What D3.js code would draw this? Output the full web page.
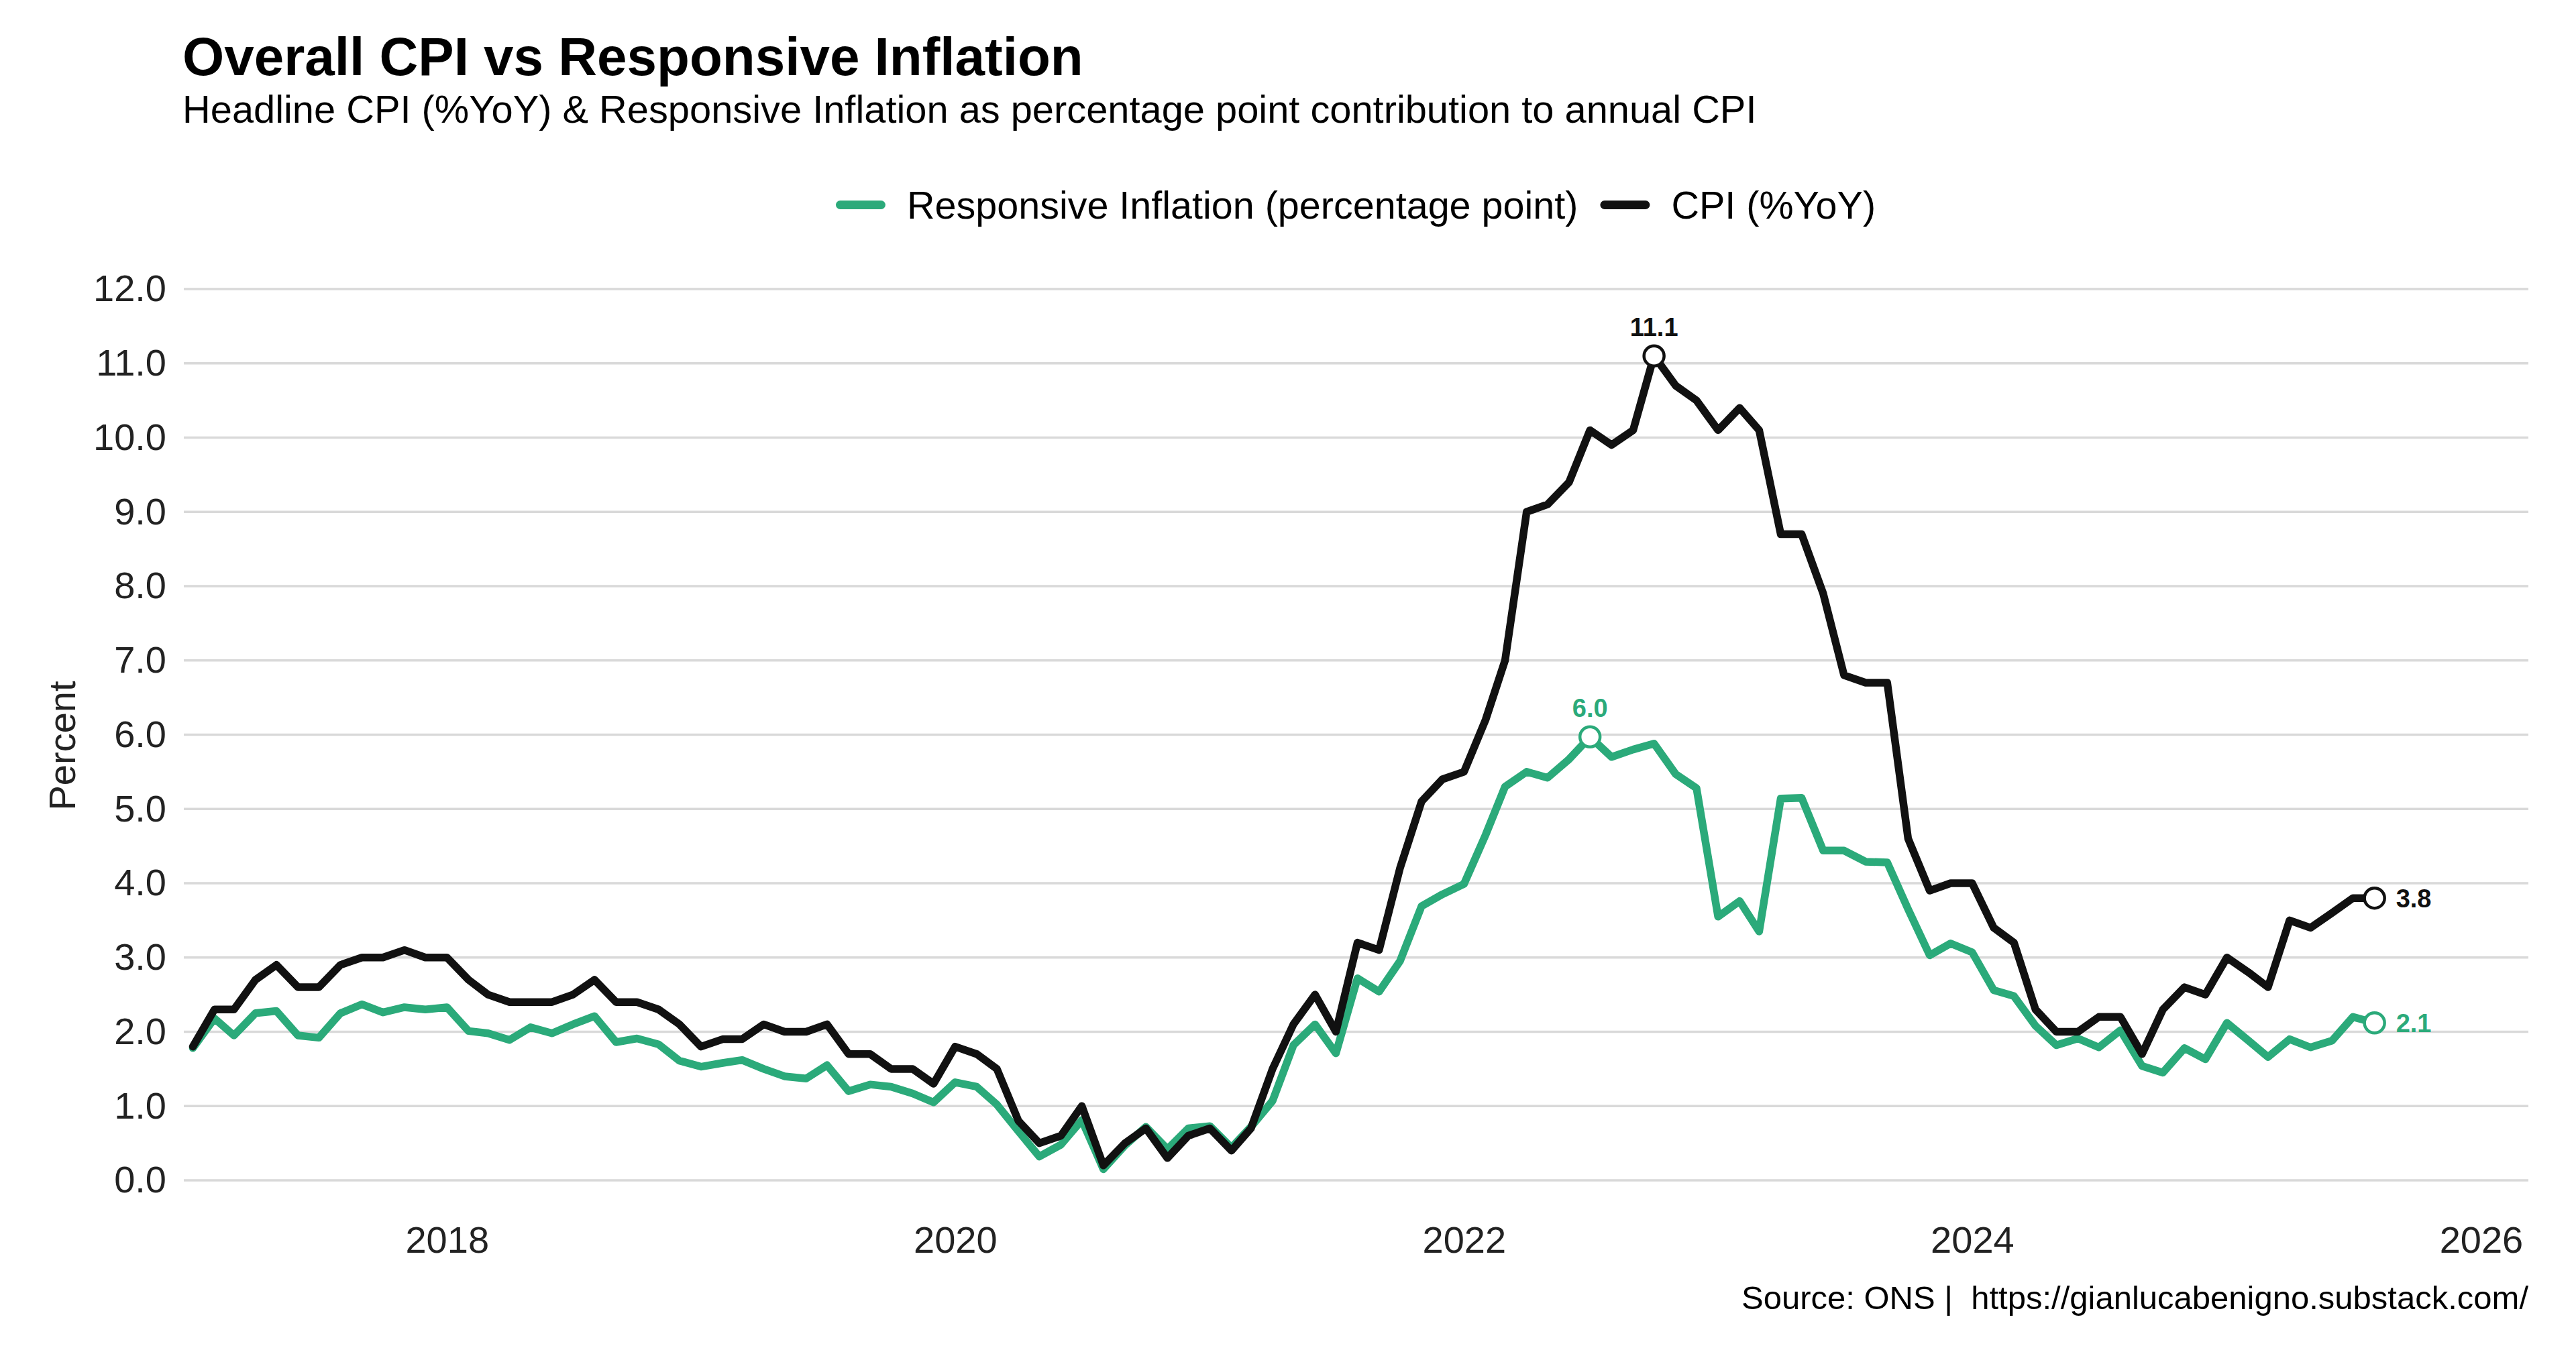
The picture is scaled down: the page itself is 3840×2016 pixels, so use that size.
<!DOCTYPE html>
<html>
<head>
<meta charset="utf-8">
<script src="https://cdn.jsdelivr.net/npm/d3@7"></script>
<style>
	body { margin: 0; background: #fff; }
	svg { display: block; font-family: "Liberation Sans", Arial, Helvetica, sans-serif; }
</style>
</head>
<body>
<svg id="chart" width="3840" height="2016"></svg>
<script>
"use strict";

// monthly observations, Jan 2017 .. Aug 2025
var firstMonth = "2017-01",
	lastMonth = "2025-08";

// headline CPI, % year on year
var cpi = [
	1.8, 2.3, 2.3, 2.7, 2.9, 2.6, 2.6, 2.9, 3.0, 3.0, 3.1, 3.0,
	3.0, 2.7, 2.5, 2.4, 2.4, 2.4, 2.5, 2.7, 2.4, 2.4, 2.3, 2.1,
	1.8, 1.9, 1.9, 2.1, 2.0, 2.0, 2.1, 1.7, 1.7, 1.5, 1.5, 1.3,
	1.8, 1.7, 1.5, 0.8, 0.5, 0.6, 1.0, 0.2, 0.5, 0.7, 0.3, 0.6,
	0.7, 0.4, 0.7, 1.5, 2.1, 2.5, 2.0, 3.2, 3.1, 4.2, 5.1, 5.4,
	5.5, 6.2, 7.0, 9.0, 9.1, 9.4, 10.1, 9.9, 10.1, 11.1, 10.7, 10.5,
	10.1, 10.4, 10.1, 8.7, 8.7, 7.9, 6.8, 6.7, 6.7, 4.6, 3.9, 4.0,
	4.0, 3.4, 3.2, 2.3, 2.0, 2.0, 2.2, 2.2, 1.7, 2.3, 2.6, 2.5,
	3.0, 2.8, 2.6, 3.5, 3.4, 3.6, 3.8, 3.8
];

// responsive inflation, pp contribution to annual CPI
var responsive = [
	1.78, 2.18, 1.95, 2.25, 2.28, 1.95, 1.92, 2.25, 2.37, 2.26, 2.33, 2.30,
	2.33, 2.01, 1.98, 1.89, 2.06, 1.98, 2.10, 2.21, 1.86, 1.91, 1.83, 1.61,
	1.53, 1.58, 1.62, 1.50, 1.40, 1.37, 1.55, 1.20, 1.29, 1.26, 1.17, 1.05,
	1.32, 1.26, 1.02, 0.66, 0.32, 0.48, 0.81, 0.15, 0.47, 0.72, 0.42, 0.70,
	0.73, 0.44, 0.72, 1.07, 1.82, 2.10, 1.71, 2.72, 2.54, 2.95, 3.69, 3.85,
	3.99, 4.65, 5.30, 5.50, 5.42, 5.67, 5.97, 5.70, 5.80, 5.88, 5.47, 5.28,
	3.55, 3.76, 3.35, 5.14, 5.15, 4.44, 4.44, 4.29, 4.28, 3.65, 3.03, 3.19,
	3.07, 2.56, 2.48, 2.08, 1.82, 1.91, 1.79, 2.02, 1.54, 1.45, 1.78, 1.63,
	2.12, 1.88, 1.66, 1.90, 1.79, 1.88, 2.20, 2.12
];

var yTicks = [0, 1, 2, 3, 4, 5, 6, 7, 8, 9, 10, 11, 12];
var xTickYears = [2018, 2020, 2022, 2024, 2026];
var seriesNames = ["Responsive Inflation (percentage point)", "CPI (%YoY)"];
var seriesColors = ["#2baa7a", "#111111"];

var titleText = "Overall CPI vs Responsive Inflation";
var subtitleText = "Headline CPI (%YoY) & Responsive Inflation as percentage point contribution to annual CPI";
var sourceText = "Source: ONS |  https://gianlucabenigno.substack.com/";

// == layout ==
var panel = { left: 274, right: 3769, top: 431, bottom: 1760 };

var parseMonth = d3.timeParse("%Y-%m");
var months = d3.timeMonth.range(parseMonth(firstMonth), d3.timeMonth.offset(parseMonth(lastMonth), 1));

var x = d3.scaleTime()
	.domain([new Date(2016, 11, 19), new Date(2026, 2, 10)])
	.range([panel.left, panel.right]);

var y = d3.scaleLinear()
	.domain([0, 12])
	.range([panel.bottom, panel.top]);

var svg = d3.select("#chart");
var fmt = d3.format(".1f");

svg.append("rect")
	.attr("width", 3840).attr("height", 2016)
	.attr("fill", "#fff");

// gridlines
svg.append("g")
	.selectAll("line")
	.data(yTicks)
	.enter().append("line")
	.attr("x1", panel.left).attr("x2", panel.right)
	.attr("y1", function (d) { return y(d); })
	.attr("y2", function (d) { return y(d); })
	.attr("stroke", "#d9d9d9")
	.attr("stroke-width", 3.5);

// y axis labels
var yAxis = d3.axisLeft(y).tickValues(yTicks).tickFormat(fmt).tickSize(0).tickPadding(0);
var yg = svg.append("g")
	.attr("transform", "translate(248,0)")
	.call(yAxis);
yg.select(".domain").remove();
yg.selectAll("text")
	.attr("font-size", 56)
	.attr("font-family", null)
	.attr("fill", "#222");

// x axis labels
var xAxis = d3.axisBottom(x)
	.tickValues(xTickYears.map(function (yr) { return new Date(yr, 0, 1); }))
	.tickFormat(d3.timeFormat("%Y"))
	.tickSize(0).tickPadding(0);
var xg = svg.append("g")
	.attr("transform", "translate(0,1868)")
	.call(xAxis);
xg.select(".domain").remove();
xg.selectAll("text")
	.attr("font-size", 56)
	.attr("font-family", null)
	.attr("fill", "#222")
	.attr("dy", 0);

// axis title
svg.append("text")
	.attr("transform", "translate(112,1112) rotate(-90)")
	.attr("text-anchor", "middle")
	.attr("font-size", 56)
	.attr("fill", "#222")
	.text("Percent");

// series
var series = [responsive, cpi].map(function (vals, i) {
	return {
		name: seriesNames[i],
		color: seriesColors[i],
		points: vals.map(function (v, j) { return { date: months[j], v: v }; })
	};
});

var line = d3.line()
	.x(function (d) { return x(d.date); })
	.y(function (d) { return y(d.v); });

svg.append("g")
	.selectAll("path")
	.data(series)
	.enter().append("path")
	.attr("d", function (s) { return line(s.points); })
	.attr("fill", "none")
	.attr("stroke", function (s) { return s.color; })
	.attr("stroke-width", 11.5)
	.attr("stroke-linejoin", "round")
	.attr("stroke-linecap", "round");

// peak and last-value markers
var marks = [];
series.forEach(function (s) {
	var peak = s.points.reduce(function (a, b) { return b.v > a.v ? b : a; });
	marks.push({ p: peak, color: s.color, kind: "peak" });
	marks.push({ p: s.points[s.points.length - 1], color: s.color, kind: "last" });
});

var mg = svg.append("g");
mg.selectAll("circle")
	.data(marks)
	.enter().append("circle")
	.attr("cx", function (d) { return x(d.p.date); })
	.attr("cy", function (d) { return y(d.p.v); })
	.attr("r", 15)
	.attr("fill", "#fff")
	.attr("stroke", function (d) { return d.color; })
	.attr("stroke-width", 4.5);

mg.selectAll("text")
	.data(marks)
	.enter().append("text")
	.attr("x", function (d) { return d.kind == "peak" ? x(d.p.date) : x(d.p.date) + 32; })
	.attr("y", function (d) { return d.kind == "peak" ? y(d.p.v) - 30 : y(d.p.v); })
	.attr("dy", function (d) { return d.kind == "peak" ? 0 : "0.36em"; })
	.attr("text-anchor", function (d) { return d.kind == "peak" ? "middle" : "start"; })
	.attr("font-size", 38)
	.attr("font-weight", "bold")
	.attr("fill", function (d) { return d.color; })
	.text(function (d) { return fmt(d.p.v); });

// legend, centred over the panel
var legend = svg.append("g");
var lgY = 305.5, keyW = 74;
var cursor = 0;
seriesNames.forEach(function (name, i) {
	var g = legend.append("g");
	g.append("line")
		.attr("x1", 6.5).attr("x2", keyW - 6.5)
		.attr("y1", lgY).attr("y2", lgY)
		.attr("stroke", seriesColors[i])
		.attr("stroke-width", 13)
		.attr("stroke-linecap", "round");
	var t = g.append("text")
		.attr("x", keyW + 32)
		.attr("y", 326)
		.attr("font-size", 57.5)
		.attr("fill", "#000")
		.text(name);
	g.attr("transform", "translate(" + cursor + ",0)");
	cursor += keyW + 32 + t.node().getComputedTextLength() + 33;
});
var legendW = cursor - 33;
legend.attr("transform", "translate(" + (2021 - legendW / 2) + ",0)");

// titles
svg.append("text")
	.attr("x", 272).attr("y", 112)
	.attr("font-size", 80)
	.attr("font-weight", "bold")
	.attr("fill", "#000")
	.text(titleText);

svg.append("text")
	.attr("x", 272).attr("y", 183)
	.attr("font-size", 57.8)
	.attr("fill", "#000")
	.text(subtitleText);

svg.append("text")
	.attr("x", panel.right).attr("y", 1952)
	.attr("text-anchor", "end")
	.attr("font-size", 49)
	.attr("fill", "#000")
	.style("white-space", "pre")
	.text(sourceText);
</script>
</body>
</html>
